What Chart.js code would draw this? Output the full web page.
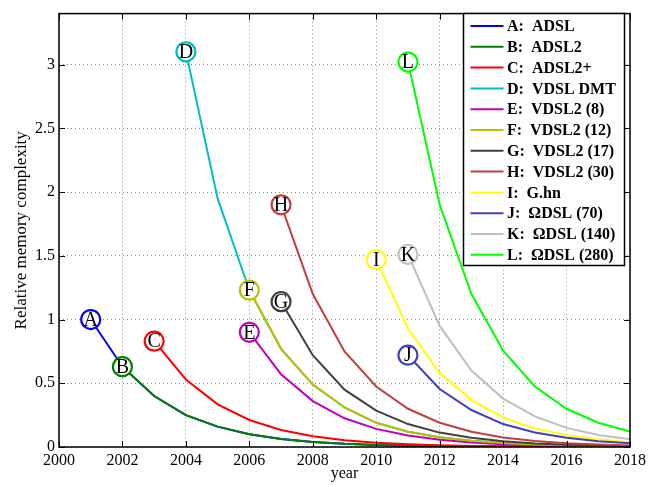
<!doctype html>
<html>

<head>
  <title>memory complexity chart</title>
  <script src="https://cdn.jsdelivr.net/npm/chart.js@4.4.1/dist/chart.umd.min.js"></script>
  <style>
    html, body {
      margin: 0;
      padding: 0;
      background: #fff;
    }
    .chart {
      width: 659px;
      height: 485px;
    }
  </style>
</head>

<body>
  <div class="chart">
    <canvas id="myChart"></canvas>
  </div>

  <script>
    // series, one value per year from the start year
    var letters = ['A', 'B', 'C', 'D', 'E', 'F', 'G', 'H', 'I', 'J', 'K', 'L'];
    var names = ['ADSL', 'ADSL2', 'ADSL2+', 'VDSL DMT', 'VDSL2 (8)', 'VDSL2 (12)',
      'VDSL2 (17)', 'VDSL2 (30)', 'G.hn', '\u03A9DSL (70)', '\u03A9DSL (140)', '\u03A9DSL (280)'];
    var startYears = [2001, 2002, 2003, 2004, 2006, 2006, 2007, 2007, 2010, 2011, 2011, 2011];

    var seriesA = [1.0, 0.63, 0.40, 0.25, 0.16, 0.10, 0.063, 0.040, 0.025, 0.016, 0.010, 0.0063, 0.0040, 0.0025, 0.0016, 0.0010, 0.0006, 0.0004];
    var seriesB = [0.63, 0.40, 0.25, 0.16, 0.10, 0.063, 0.040, 0.025, 0.016, 0.010, 0.0063, 0.0040, 0.0025, 0.0016, 0.0010, 0.0006, 0.0004];
    var seriesC = [0.83, 0.53, 0.335, 0.212, 0.134, 0.085, 0.053, 0.034, 0.021, 0.013, 0.0085, 0.0053, 0.0034, 0.0021, 0.0013, 0.0008];
    var seriesD = [3.1, 1.95, 1.23, 0.77, 0.49, 0.31, 0.19, 0.12, 0.077, 0.049, 0.031, 0.019, 0.012, 0.0077, 0.0049];
    var seriesE = [0.90, 0.57, 0.36, 0.225, 0.142, 0.09, 0.057, 0.036, 0.022, 0.014, 0.009, 0.0057, 0.0036];
    var seriesF = [1.23, 0.77, 0.49, 0.31, 0.19, 0.12, 0.077, 0.049, 0.031, 0.019, 0.012, 0.0077, 0.0049];
    var seriesG = [1.14, 0.72, 0.45, 0.285, 0.18, 0.113, 0.072, 0.045, 0.028, 0.018, 0.011, 0.007];
    var seriesH = [1.90, 1.20, 0.75, 0.475, 0.30, 0.19, 0.12, 0.075, 0.047, 0.030, 0.019, 0.012];
    var seriesI = [1.47, 0.93, 0.58, 0.37, 0.23, 0.146, 0.092, 0.058, 0.037];
    var seriesJ = [0.72, 0.455, 0.29, 0.18, 0.114, 0.072, 0.045, 0.029];
    var seriesK = [1.51, 0.95, 0.60, 0.38, 0.24, 0.15, 0.095, 0.06];
    var seriesL = [3.02, 1.90, 1.20, 0.755, 0.475, 0.30, 0.19, 0.122];
    var allSeries = [seriesA, seriesB, seriesC, seriesD, seriesE, seriesF,
      seriesG, seriesH, seriesI, seriesJ, seriesK, seriesL];

    var xTicks = [2000, 2002, 2004, 2006, 2008, 2010, 2012, 2014, 2016, 2018];
    var yTicks = [0, 0.5, 1, 1.5, 2, 2.5, 3];

    var colors = ['#0000ff', '#008000', '#ff0000', '#00bfbf', '#bf00bf', '#bfbf00',
      '#404040', '#bf4040', '#ffff00', '#4040bf', '#bfbfbf', '#00ff00'];

    var serif = '"Liberation Serif", "DejaVu Serif", serif';

    var datasets = allSeries.map(function(vals, i) {
      return {
        label: letters[i] + ':  ' + names[i],
        data: vals.map(function(v, k) { return {x: startYears[i] + k, y: v}; }),
        borderColor: colors[i],
        borderWidth: 2,
        pointRadius: vals.map(function(v, k) { return k === 0 ? 9.5 : 0; }),
        pointBorderWidth: 2.2,
        pointBackgroundColor: '#fff',
        pointBorderColor: colors[i],
        tension: 0,
        order: 12 - i
      };
    });

    // letters inside the start circles, box frame with inward ticks, legend
    var decorPlugin = {
      id: 'decor',
      afterDatasetsDraw: function(chart) {
        var ctx = chart.ctx;
        ctx.save();
        ctx.fillStyle = '#000';
        ctx.font = '20px ' + serif;
        ctx.textAlign = 'center';
        ctx.textBaseline = 'middle';
        chart.data.datasets.forEach(function(ds, i) {
          var pt = chart.getDatasetMeta(i).data[0];
          ctx.fillText(letters[i], pt.x, pt.y + 1);
        });
        ctx.restore();
      },
      afterDraw: function(chart) {
        var ctx = chart.ctx;
        var a = chart.chartArea;
        var xs = chart.scales.x, ys = chart.scales.y;
        ctx.save();
        ctx.strokeStyle = '#000';
        ctx.lineWidth = 1.5;
        ctx.strokeRect(a.left, a.top, a.right - a.left, a.bottom - a.top);
        ctx.lineWidth = 1;
        ctx.beginPath();
        xTicks.forEach(function(t) {
          var px = Math.round(xs.getPixelForValue(t)) + 0.5;
          ctx.moveTo(px, a.bottom); ctx.lineTo(px, a.bottom - 6);
          ctx.moveTo(px, a.top); ctx.lineTo(px, a.top + 6);
        });
        yTicks.forEach(function(t) {
          var py = Math.round(ys.getPixelForValue(t)) + 0.5;
          ctx.moveTo(a.left, py); ctx.lineTo(a.left + 6, py);
          ctx.moveTo(a.right, py); ctx.lineTo(a.right - 6, py);
        });
        ctx.stroke();

        // legend box
        var bx = 463.5, by = 13.5, bw = 161, bh = 252, rowH = 20.8;
        ctx.fillStyle = '#fff';
        ctx.fillRect(bx, by, bw, bh);
        ctx.lineWidth = 1.5;
        ctx.strokeRect(bx, by, bw, bh);
        ctx.font = 'bold 16px ' + serif;
        ctx.textAlign = 'left';
        ctx.textBaseline = 'middle';
        chart.data.datasets.forEach(function(ds, i) {
          var y = 26 + i * rowH;
          ctx.strokeStyle = colors[i];
          ctx.lineWidth = 2;
          ctx.beginPath();
          ctx.moveTo(470.5, y);
          ctx.lineTo(503.5, y);
          ctx.stroke();
          ctx.fillStyle = '#000';
          ctx.fillText(ds.label, 507, y + 1);
        });
        ctx.restore();
      }
    };

    var config = {
      type: 'line',
      data: {
        datasets: datasets
      },
      options: {
        responsive: false,
        animation: false,
        layout: {
          padding: {top: 8, right: 29, left: 0, bottom: 0}
        },
        scales: {
          x: {
            type: 'linear',
            min: 2000,
            max: 2018,
            afterFit: function(s) { s.height = 38; },
            afterBuildTicks: function(s) {
              s.ticks = xTicks.map(function(v) { return {value: v}; });
            },
            ticks: {
              color: '#000',
              padding: 4,
              maxRotation: 0,
              font: {family: serif, size: 16},
              callback: function(v) { return String(v); }
            },
            grid: {
              color: '#888',
              drawTicks: false
            },
            border: {display: false, dash: [1, 3]},
            title: {
              display: true,
              text: 'year',
              color: '#000',
              font: {family: serif, size: 16},
              padding: {top: 0, bottom: 2}
            }
          },
          y: {
            min: 0,
            max: 3.4,
            afterFit: function(s) { s.width = 59; },
            afterBuildTicks: function(s) {
              s.ticks = yTicks.map(function(v) { return {value: v}; });
            },
            ticks: {
              color: '#000',
              padding: 4,
              font: {family: serif, size: 16},
              callback: function(v) { return String(v); }
            },
            grid: {
              color: '#888',
              drawTicks: false
            },
            border: {display: false, dash: [1, 3]},
            title: {
              display: true,
              text: 'Relative memory complexity',
              color: '#000',
              font: {family: serif, size: 17},
              padding: {top: 11, bottom: 0}
            }
          }
        },
        plugins: {
          legend: {display: false},
          tooltip: {enabled: false}
        }
      },
      plugins: [decorPlugin]
    };

    window.onload = function() {
      var ctx = document.getElementById('myChart');
      ctx.width = 659;
      ctx.height = 485;
      window.myChart = new Chart(ctx, config);
    };
  </script>
</body>

</html>
